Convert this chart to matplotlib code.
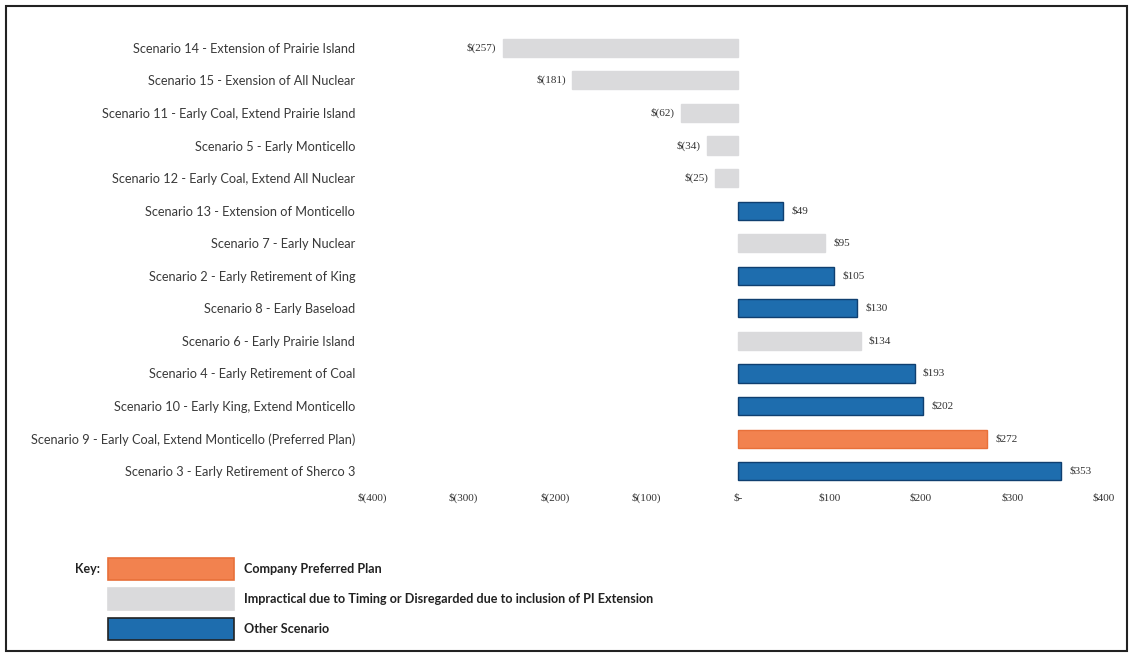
import matplotlib
matplotlib.use("Agg")
import matplotlib.pyplot as plt
from matplotlib.patches import Rectangle

categories = [
    "Scenario 14 - Extension of Prairie Island",
    "Scenario 15 - Exension of All Nuclear",
    "Scenario 11 - Early Coal, Extend Prairie Island",
    "Scenario 5 - Early Monticello",
    "Scenario 12 - Early Coal, Extend All Nuclear",
    "Scenario 13 - Extension of Monticello",
    "Scenario 7 - Early Nuclear",
    "Scenario 2 - Early Retirement of King",
    "Scenario 8 - Early Baseload",
    "Scenario 6 - Early Prairie Island",
    "Scenario 4 - Early Retirement of Coal",
    "Scenario 10 - Early King, Extend Monticello",
    "Scenario 9 - Early Coal, Extend Monticello (Preferred Plan)",
    "Scenario 3 - Early Retirement of Sherco 3",
]
values = [-257, -181, -62, -34, -25, 49, 95, 105, 130, 134, 193, 202, 272, 353]
groups = ["gray", "gray", "gray", "gray", "gray", "blue", "gray", "blue", "blue",
          "gray", "blue", "blue", "orange", "blue"]
xticks = [-400, -300, -200, -100, 0, 100, 200, 300, 400]
xticklabels = ["$(400)", "$(300)", "$(200)", "$(100)", "$-", "$100", "$200", "$300", "$400"]
legend_labels = ["Company Preferred Plan",
                 "Impractical due to Timing or Disregarded due to inclusion of PI Extension",
                 "Other Scenario"]

face = {"orange": "#F2824F", "gray": "#DADADC", "blue": "#1E6DAE"}
edge = {"orange": "#E8703A", "gray": "#DADADC", "blue": "#0F3F70"}

W, H = 1132, 656
fig = plt.figure(figsize=(W / 100, H / 100), dpi=100)
ax = fig.add_axes([372 / W, 1 - 487.5 / H, (1104 - 372) / W, (487.5 - 31.5) / H])

ypos = list(range(len(categories)))
for y, v, g in zip(ypos, values, groups):
    ax.barh(y, v, height=0.56, color=face[g], edgecolor=edge[g], linewidth=1.0)
    if v < 0:
        ax.text(v - 7, y, "$(%d)" % abs(v), ha="right", va="center",
                fontsize=8, family="Liberation Serif", color="#333333")
    else:
        ax.text(v + 9, y, "$%d" % v, ha="left", va="center",
                fontsize=8, family="Liberation Serif", color="#333333")

ax.set_xlim(-400, 400)
ax.set_ylim(len(categories) - 0.5, -0.5)
ax.set_yticks(ypos)
ax.set_yticklabels(categories, fontsize=9.2, family="Lato", color="#3a3a3a")
ax.set_xticks(xticks)
ax.set_xticklabels(xticklabels, fontsize=8, family="Liberation Serif", color="#333333")
ax.tick_params(axis="both", length=0, pad=4)
ax.tick_params(axis="y", pad=12)
for s in ax.spines.values():
    s.set_visible(False)

# Key
fig.text(75 / W, 1 - 569 / H, "Key:", fontsize=9, family="Lato", fontweight="bold",
         ha="left", va="center", color="#222222")
keys = ["orange", "gray", "blue"]
rows = [569, 599, 629]
for k, r, lab in zip(keys, rows, legend_labels):
    fig.patches.append(Rectangle((108 / W, 1 - (r + 11) / H), 126 / W, 22 / H,
                                 transform=fig.transFigure, facecolor=face[k],
                                 edgecolor=("#222222" if k == "blue" else edge[k]),
                                 linewidth=1.2))
    fig.text(244 / W, 1 - r / H, lab, fontsize=9.1, family="Lato", fontweight="bold",
             ha="left", va="center", color="#222222")

# outer border
fig.patches.append(Rectangle((6 / W, 5 / H), 1121 / W, 645 / H, transform=fig.transFigure,
                             fill=False, edgecolor="#222222", linewidth=1.5))

fig.savefig("out.png", dpi=100)
